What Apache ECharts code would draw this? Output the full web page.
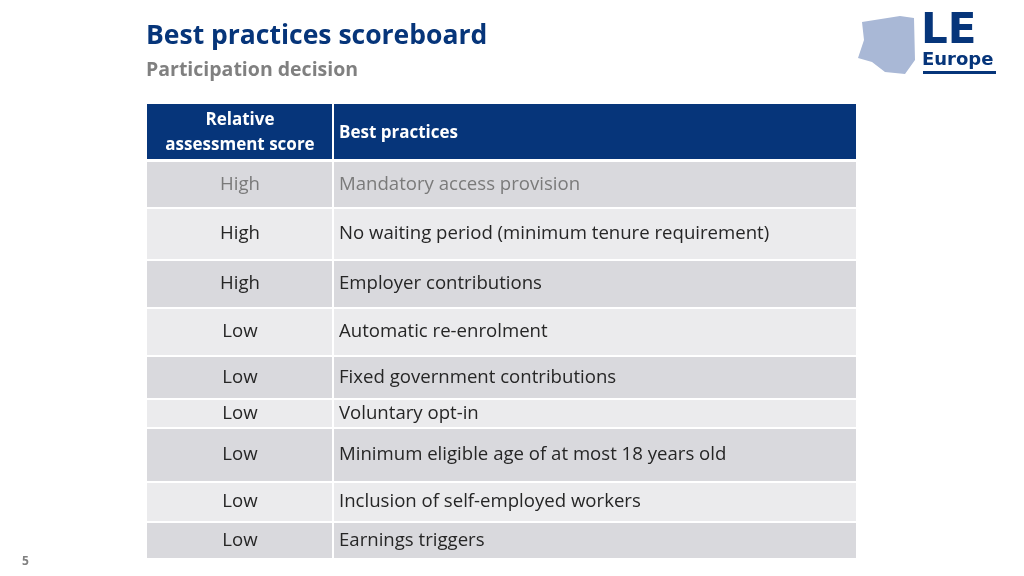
<!DOCTYPE html>
<html>
<head>
<meta charset="utf-8">
<style>html,body{margin:0;padding:0;background:#fff}#main{width:1024px;height:576px}</style>
<script src="https://cdn.jsdelivr.net/npm/echarts@6/dist/echarts.min.js"></script>
</head>
<body>
<div id="main"></div>
<script>
var headers = ['Relative\nassessment score', 'Best practices'];
var scores = ['High', 'High', 'High', 'Low', 'Low', 'Low', 'Low', 'Low', 'Low'];
var practices = [
    'Mandatory access provision',
    'No waiting period (minimum tenure requirement)',
    'Employer contributions',
    'Automatic re-enrolment',
    'Fixed government contributions',
    'Voluntary opt-in',
    'Minimum eligible age of at most 18 years old',
    'Inclusion of self-employed workers',
    'Earnings triggers'
];

// layout (row tops / heights in px)
var rowTop = [162, 209, 261, 309, 357, 400, 429, 483, 523];
var rowH = [45, 50, 46, 46, 41, 27, 52, 38, 35];
var x0 = 147, xSplit = 333, x1 = 856;
var font = '"Open Sans", sans-serif';

var els = [];
els.push({type: 'rect', shape: {x: x0, y: 104, width: x1 - x0, height: 55}, style: {fill: '#06357a'}});
els.push({type: 'rect', shape: {x: xSplit - 1, y: 104, width: 2, height: 55}, style: {fill: '#ffffff'}});
els.push({type: 'text', x: (x0 + xSplit) / 2, y: 133, style: {text: headers[0], fill: '#fff', font: 'bold 17px ' + font, align: 'center', verticalAlign: 'middle', lineHeight: 25}});
els.push({type: 'text', x: 339, y: 133, style: {text: headers[1], fill: '#fff', font: 'bold 17px ' + font, verticalAlign: 'middle'}});

scores.forEach(function (s, i) {
    var fill = i % 2 === 0 ? '#d9d9dd' : '#ebebed';
    var col = i === 0 ? '#7a7a7a' : '#262626';
    var cy = rowTop[i] + rowH[i] / 2;
    els.push({type: 'rect', shape: {x: x0, y: rowTop[i], width: x1 - x0, height: rowH[i]}, style: {fill: fill}});
    els.push({type: 'rect', shape: {x: xSplit - 1, y: rowTop[i], width: 2, height: rowH[i]}, style: {fill: '#ffffff'}});
    els.push({type: 'text', x: (x0 + xSplit) / 2, y: cy, style: {text: s, fill: col, font: '18.6px ' + font, align: 'center', verticalAlign: 'middle'}});
    els.push({type: 'text', x: 339, y: cy, style: {text: practices[i], fill: col, font: '18.6px ' + font, verticalAlign: 'middle'}});
});

// titles and logo
els.push({type: 'text', x: 146, y: 36, style: {text: 'Best practices scoreboard', fill: '#06357a', font: 'bold 26.5px ' + font, verticalAlign: 'middle'}});
els.push({type: 'text', x: 146, y: 70, style: {text: 'Participation decision', fill: '#808080', font: 'bold 19.5px ' + font, verticalAlign: 'middle'}});
els.push({type: 'text', x: 921, y: 32, style: {text: 'LE', fill: '#06357a', font: 'bold 42px "DejaVu Sans", sans-serif', verticalAlign: 'middle'}});
els.push({type: 'text', x: 922, y: 60, style: {text: 'Europe', fill: '#06357a', font: 'bold 18px "DejaVu Sans", sans-serif', verticalAlign: 'middle'}});
els.push({type: 'rect', shape: {x: 923, y: 71, width: 73, height: 3}, style: {fill: '#06357a'}});
els.push({type: 'polygon', shape: {points: [[862, 22], [900, 16], [914, 18], [915, 60], [905, 74], [885, 72], [872, 62], [858, 58], [864, 40]]},
    style: {fill: '#a9b8d6'}});
els.push({type: 'text', x: 22, y: 562, style: {text: '5', fill: '#808080', font: 'bold 12px ' + font, verticalAlign: 'middle'}});

var myChart = echarts.init(document.getElementById('main'));
myChart.setOption({
    animation: false,
    graphic: {elements: els}
});
</script>
</body>
</html>
